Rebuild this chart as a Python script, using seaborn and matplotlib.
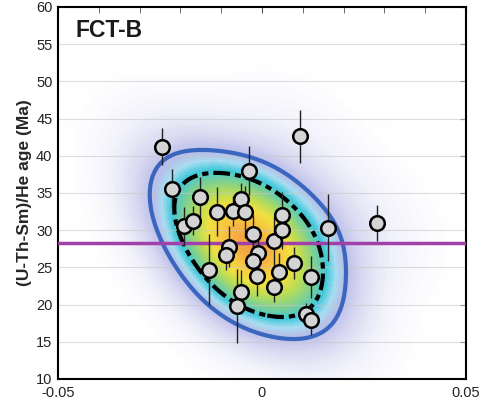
import numpy as np
import pandas as pd
import matplotlib
matplotlib.use("Agg")
import matplotlib.pyplot as plt
from matplotlib.colors import LinearSegmentedColormap
import seaborn as sns

# data
x_vals = [-0.0244, -0.0220, -0.0152, -0.0190, -0.0170, -0.0110, -0.0130, -0.0072,
          -0.0051, -0.0042, -0.0033, -0.0082, -0.0088, -0.0021, -0.0009, -0.0021,
          -0.0013, -0.0051, -0.0061, 0.0029, 0.0050, 0.0049, 0.0042, 0.0029,
          0.0078, 0.0092, 0.0121, 0.0108, 0.0120, 0.0161, 0.0281]
ages = [41.2, 35.6, 34.5, 30.5, 31.3, 32.5, 24.7, 32.6,
        34.2, 32.4, 38.0, 27.8, 26.7, 29.5, 26.9, 25.8,
        23.8, 21.7, 19.8, 28.5, 32.1, 30.0, 24.4, 22.4,
        25.6, 42.6, 23.7, 18.7, 17.9, 30.3, 31.0]
age_err = [2.5, 2.6, 2.7, 2.6, 2.0, 3.3, 4.8, 2.0,
           2.2, 3.5, 3.3, 2.7, 2.0, 2.5, 2.0, 2.5,
           2.7, 3.0, 5.0, 3.3, 3.0, 2.5, 2.5, 2.0,
           2.2, 3.6, 2.8, 1.5, 2.0, 4.5, 2.4]
mean_age = 28.3
title = "FCT-B"
y_label = "(U-Th-Sm)/He age (Ma)"
x_ticks = [-0.05, 0, 0.05]
x_ticklabels = ["-0.05", "0", "0.05"]
y_ticks = [10, 15, 20, 25, 30, 35, 40, 45, 50, 55, 60]

df = pd.DataFrame({"x": x_vals, "age": ages, "err": age_err})

sns.set_style("white")
plt.rcParams['font.family'] = ['Liberation Sans', 'DejaVu Sans']

fig = plt.figure(figsize=(4.83, 4.07), dpi=100)
ax = fig.add_axes([58/483, 1-379/407, 408/483, 372/407])

cmap = LinearSegmentedColormap.from_list(
    "dens", [(0.0, "#ffffff"), (0.10, "#f1f1fa"), (0.24, "#d4d4f0"),
             (0.34, "#b8bce8"), (0.42, "#a8dcf0"), (0.50, "#40c8dc"),
             (0.60, "#78cf98"), (0.72, "#b8dc58"), (0.83, "#f2e040"),
             (0.93, "#f8c440"), (1.0, "#f4a040")])

sns.kdeplot(data=df, x="x", y="age", fill=True, levels=60, thresh=0.01,
            bw_adjust=1.8, cmap=cmap, ax=ax, zorder=1, gridsize=200, cut=8)

sns.kdeplot(data=df, x="x", y="age", levels=[0.30], bw_adjust=1.6,
            color="#3a66c0", linewidths=3, ax=ax, zorder=3, cut=8, gridsize=200)
sns.kdeplot(data=df, x="x", y="age", levels=[0.50], bw_adjust=1.6,
            color="black", linewidths=3, linestyles=[(0, (4, 1.2, 1.5, 1.2))],
            ax=ax, zorder=3, cut=8, gridsize=200)

for yv in y_ticks[1:-1]:
    ax.axhline(yv, color="#c8c8c8", lw=0.8, alpha=0.6, zorder=1.5)

ax.axhline(mean_age, color="#a040a8", lw=2.5, zorder=4)

ax.errorbar(df["x"], df["age"], yerr=df["err"], fmt="none", ecolor="#222222",
            elinewidth=1.0, zorder=5)
sns.scatterplot(data=df, x="x", y="age", s=110, color="#d4d4d4",
                edgecolor="black", linewidth=1.8, ax=ax, zorder=6)

ax.set_xlim(-0.05, 0.05)
ax.set_ylim(10, 60)
ax.set_xticks(x_ticks)
ax.set_xticklabels(x_ticklabels)
ax.set_xticks(np.arange(-0.05, 0.0501, 0.01), minor=True)
ax.set_yticks(y_ticks)
ax.tick_params(axis="both", which="both", direction="in", labelsize=10.5,
               top=True, right=True, length=4, color="#555555",
               labelcolor="#222222")
ax.tick_params(axis="x", which="major", pad=5)
ax.tick_params(axis="y", which="major", pad=4)
ax.set_xlabel("")
ax.set_ylabel(y_label, fontsize=12.5, fontweight="bold", labelpad=3)
for s in ax.spines.values():
    s.set_linewidth(1.5)
    s.set_color("black")
ax.text(0.042, 0.968, title, transform=ax.transAxes, fontsize=16.5,
        fontweight="bold", ha="left", va="top", zorder=7, color="#1a1a1a")

fig.savefig("out.png", dpi=100)
